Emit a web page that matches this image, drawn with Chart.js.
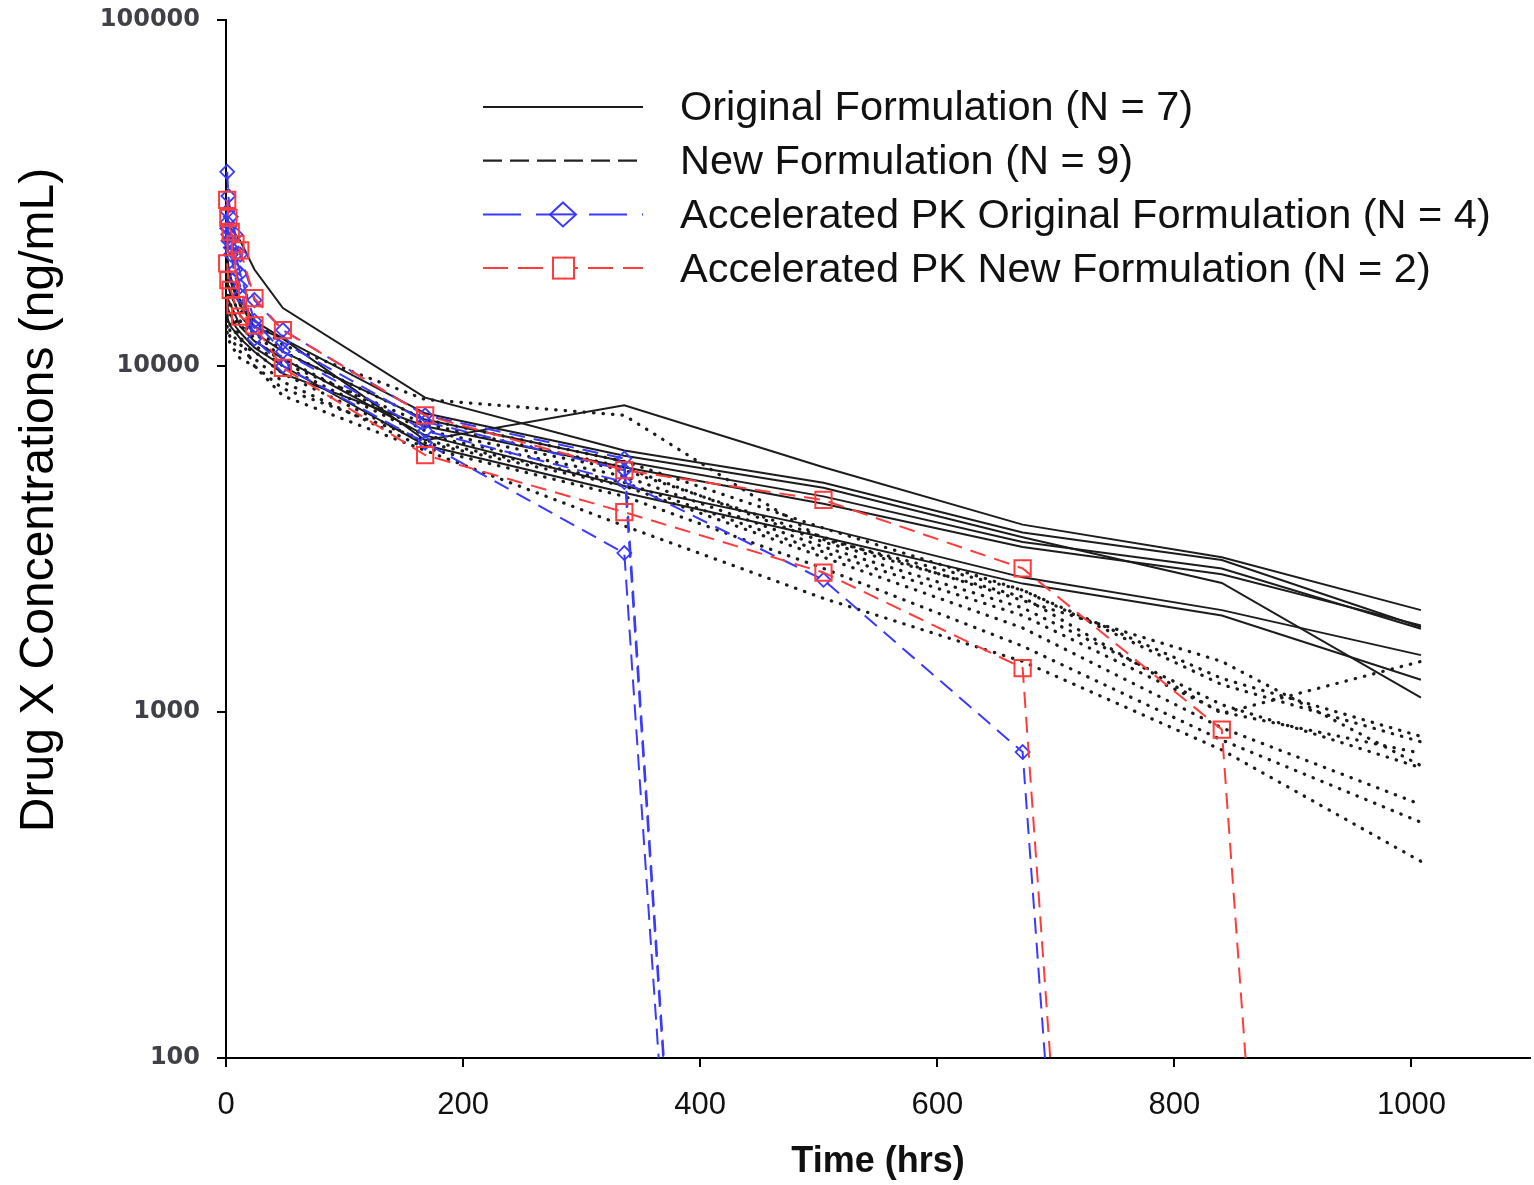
<!DOCTYPE html>
<html>
<head>
<meta charset="utf-8">
<script src="https://cdn.jsdelivr.net/npm/chart.js@4.4.0/dist/chart.umd.min.js"></script>
<style>
  html, body { margin: 0; padding: 0; background: #fff; }
  canvas { display: block; }
</style>
</head>
<body>
<canvas id="pkChart" width="1534" height="1185"></canvas>
<script>
// sampling times (hrs)
const sampleHours = [1, 2, 4, 8, 12, 24, 48, 168, 336, 504, 672, 840, 1008];
// below-quantitation samples are plotted as near-zero, so the lines fall off the axis
const BLQ = 0.00001;

const xTickValues = [0, 200, 400, 600, 800, 1000];
const yTickValues = [100, 1000, 10000, 100000];

const groupNames = [
  'Original Formulation (N = 7)',
  'New Formulation (N = 9)',
  'Accelerated PK Original Formulation (N = 4)',
  'Accelerated PK New Formulation (N = 2)'
];

// Original formulation subjects (ng/mL)
const orig1 = [21000, 19500, 18000, 16500, 15500, 13500, 12000, 6100, 7700, 5100, 3480, 2800, 1970];
const orig2 = [27000, 26000, 25000, 24000, 23000, 19000, 14700, 8100, 5700, 4600, 3300, 2750, 1760];
const orig3 = [20000, 19000, 17500, 16000, 15000, 13000, 12000, 7300, 5500, 4450, 3200, 2360, 1100];
const orig4 = [18000, 17000, 16000, 15000, 14000, 12500, 11000, 7000, 5300, 4200, 3100, 2600, 1740];
const orig5 = [16000, 15500, 15000, 14000, 13000, 11800, 10500, 6300, 4500, 3400, 2450, 1970, 1460];
const orig6 = [15000, 14500, 14000, 13000, 12500, 11300, 10000, 5900, 4300, 3200, 2350, 1900, 1240];
const orig7 = [14000, 13500, 13000, 12500, 12000, 11000, 9500, 6700, 5100, 4000, 3000, 2500, 1780];

// New formulation subjects
const new1 = [19000, 18000, 17000, 16000, 15000, 13500, 11500, 8000, 7200, 3150, 2250, 1250, 850];
const new2 = [17000, 16000, 15000, 14000, 13500, 12000, 10200, 6800, 5100, 3100, 2150, 990, 1400];
const new3 = [15000, 14500, 14000, 13500, 13000, 12500, 10500, 6500, 5000, 3200, 2100, 1400, 700];
const new4 = [14000, 13500, 13000, 12500, 12000, 11500, 10000, 6300, 4800, 3000, 2000, 1050, 690];
const new5 = [13500, 13000, 12500, 12000, 11500, 11000, 9500, 6000, 4500, 2800, 1750, 900, 540];
const new6 = [13000, 12500, 12000, 11500, 11000, 10500, 9000, 5800, 4200, 2600, 1550, 830, 480];
const new7 = [12500, 12000, 11500, 11000, 10500, 10000, 8600, 6100, 4600, 2900, 1900, 1000, 760];
const new8 = [16000, 15000, 14000, 13000, 12000, 10000, 8200, 5700, 3450, 2130, 1400, 777, 370];
const new9 = [18000, 17000, 16000, 15000, 14500, 13000, 11000, 7000, 5300, 3400, 2250, 1200, 820];

// Accelerated PK, original formulation
const accOrig1 = [26000, 24000, 22000, 19000, 17000, 12000, 10000, 6000, 2880, BLQ];
const accOrig2 = [36400, 31000, 27000, 24000, 21000, 15500, 12700, 7200, 5400, BLQ];
const accOrig3 = [28000, 25000, 23000, 21000, 18500, 13500, 11000, 6500, 4620, 2410, 766, BLQ];
const accOrig4 = [25000, 23000, 21000, 18000, 16000, 13000, 11700, 6900, 5000, BLQ];

// Accelerated PK, new formulation
const accNew1 = [30200, 26800, 24400, 22500, 21600, 15700, 12700, 7200, 5000, 4100, 2600, 890, BLQ];
const accNew2 = [19800, 17700, 16600, 15000, 13900, 13100, 9870, 5530, 3780, 2530, 1340, BLQ];

const BLACK = '#1c1c1c';
const BLUE = '#3a3aff';
const RED = '#ff3b3b';

function pts(vals) {
  return vals.map((v, i) => ({ x: sampleHours[i], y: v }));
}

const plotClip = { left: 20, top: 20, right: 5, bottom: 0 };

function accBlue(vals) {
  return {
    data: pts(vals), borderColor: BLUE, borderWidth: 2, borderDash: [16, 9],
    pointStyle: 'rectRot', pointRadius: 7, pointBorderWidth: 1.8,
    pointBorderColor: BLUE, pointBackgroundColor: 'rgba(0,0,0,0)',
    clip: plotClip
  };
}
function accRed(vals) {
  return {
    data: pts(vals), borderColor: RED, borderWidth: 2, borderDash: [16, 9],
    pointStyle: 'rect', pointRadius: 11.5, pointBorderWidth: 2,
    pointBorderColor: RED, pointBackgroundColor: 'rgba(0,0,0,0)',
    clip: plotClip
  };
}
function origLine(vals) {
  return { data: pts(vals), borderColor: BLACK, borderWidth: 2, pointRadius: 0, clip: plotClip };
}
function newLine(vals) {
  return {
    data: pts(vals), borderColor: BLACK, borderWidth: 3.2, borderDash: [0.5, 9],
    borderCapStyle: 'round', pointRadius: 0, clip: plotClip
  };
}

// first datasets are drawn on top
const datasets = [
  accRed(accNew1), accRed(accNew2),
  accBlue(accOrig1), accBlue(accOrig2), accBlue(accOrig3), accBlue(accOrig4),
  origLine(orig1), origLine(orig2), origLine(orig3), origLine(orig4),
  origLine(orig5), origLine(orig6), origLine(orig7),
  newLine(new1), newLine(new2), newLine(new3), newLine(new4), newLine(new5),
  newLine(new6), newLine(new7), newLine(new8), newLine(new9)
];

const legendRows = [
  { label: groupNames[0], color: BLACK, width: 2, dash: [] },
  { label: groupNames[1], color: '#222', width: 2.2, dash: [19, 8] },
  { label: groupNames[2], color: BLUE, width: 2, dash: [38, 15], marker: 'diamond' },
  { label: groupNames[3], color: RED, width: 2, dash: [25, 10], marker: 'square' }
];

const legendPlugin = {
  id: 'pkLegend',
  afterDraw(chart) {
    const ctx = chart.ctx;
    ctx.save();
    ctx.font = '41.5px "Liberation Sans", Arial, sans-serif';
    ctx.textBaseline = 'middle';
    legendRows.forEach((row, i) => {
      const y = 109 + i * 53.7;
      ctx.strokeStyle = row.color;
      ctx.lineWidth = row.width;
      ctx.setLineDash(row.dash);
      ctx.beginPath();
      ctx.moveTo(483, y - 2);
      ctx.lineTo(643, y - 2);
      ctx.stroke();
      ctx.setLineDash([]);
      const my = y - 2;
      if (row.marker === 'diamond') {
        ctx.fillStyle = '#fff';
        ctx.beginPath();
        ctx.moveTo(563, my - 12); ctx.lineTo(576, my); ctx.lineTo(563, my + 12); ctx.lineTo(550, my);
        ctx.closePath();
        ctx.fill();
        ctx.stroke();
        ctx.beginPath(); ctx.moveTo(550, my); ctx.lineTo(576, my); ctx.stroke();
      } else if (row.marker === 'square') {
        ctx.fillStyle = '#fff';
        ctx.fillRect(553, my - 10.5, 21, 21);
        ctx.strokeRect(553, my - 10.5, 21, 21);
      }
      ctx.fillStyle = '#111';
      ctx.fillText(row.label, 680, y);
    });

    // y axis title
    ctx.translate(40, 500);
    ctx.rotate(-Math.PI / 2);
    ctx.textAlign = 'center';
    ctx.font = '48px "Liberation Sans", Arial, sans-serif';
    ctx.fillStyle = '#000';
    ctx.fillText('Drug X Concentrations (ng/mL)', 0, 0);
    ctx.restore();
  }
};

const config = {
  type: 'line',
  data: { datasets: datasets },
  options: {
    responsive: false,
    devicePixelRatio: 1,
    animation: false,
    events: [],
    layout: { autoPadding: false, padding: { top: 20, right: 4, bottom: 0, left: 0 } },
    elements: { line: { tension: 0 } },
    plugins: { legend: { display: false }, tooltip: { enabled: false } },
    scales: {
      x: {
        type: 'linear',
        min: 0,
        max: 1100,
        afterBuildTicks: (scale) => { scale.ticks = xTickValues.map(v => ({ value: v })); },
        afterFit: (scale) => { scale.height = 127; scale.paddingLeft = 0; scale.paddingRight = 0; },
        grid: { drawOnChartArea: false, drawTicks: true, tickLength: 9, color: '#000', lineWidth: 2 },
        border: { color: '#000', width: 2 },
        ticks: {
          color: '#111', padding: 20, maxRotation: 0,
          font: { family: '"Liberation Sans", Arial, sans-serif', size: 31 },
          callback: (v) => String(v)
        },
        title: {
          display: true, text: 'Time (hrs)', color: '#111',
          padding: { top: 0, bottom: 1 },
          font: { family: '"Liberation Sans", Arial, sans-serif', size: 36, weight: 'bold' }
        }
      },
      y: {
        type: 'logarithmic',
        min: 100,
        max: 100000,
        afterBuildTicks: (scale) => { scale.ticks = yTickValues.map(v => ({ value: v })); },
        afterFit: (scale) => { scale.width = 226; scale.paddingTop = 0; scale.paddingBottom = 0; },
        grid: { drawOnChartArea: false, drawTicks: true, tickLength: 9, color: '#000', lineWidth: 2 },
        border: { color: '#000', width: 2 },
        ticks: {
          color: '#404048', padding: 17,
          font: { family: '"DejaVu Sans", sans-serif', size: 24, weight: 'bold' },
          callback: (v) => String(v)
        }
      }
    }
  },
  plugins: [legendPlugin]
};

const pkChart = new Chart(document.getElementById('pkChart'), config);
</script>
</body>
</html>
